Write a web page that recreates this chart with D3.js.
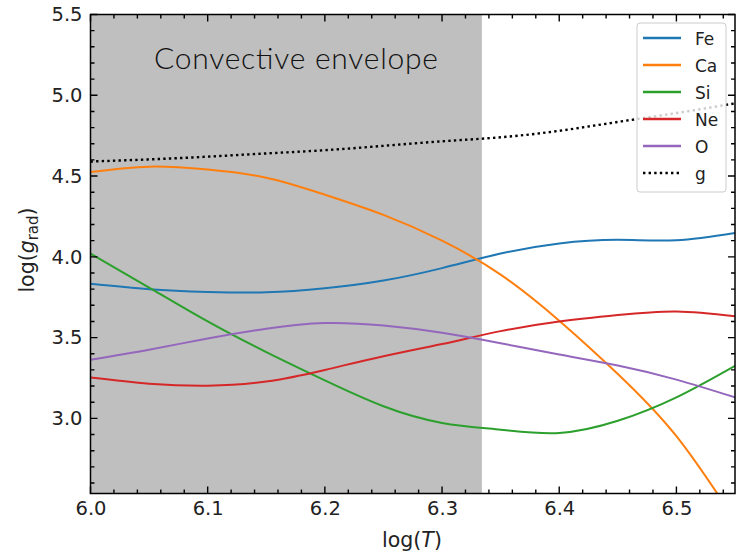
<!DOCTYPE html>
<html>
<head>
<meta charset="utf-8">
<script src="https://cdn.jsdelivr.net/npm/d3@7"></script>
<style>
  body { margin: 0; background: #fff; }
  text { font-family: "DejaVu Sans", sans-serif; }
</style>
</head>
<body>
<svg id="chart" width="736" height="554"></svg>
<script>
// temperature grid (log T) and log(g_rad) for each element
const logT = [6.00, 6.05, 6.10, 6.15, 6.20, 6.25, 6.30, 6.35, 6.40, 6.45, 6.50, 6.55];
const fe = [3.833, 3.800, 3.783, 3.780, 3.805, 3.853, 3.930, 4.020, 4.083, 4.105, 4.103, 4.148];
const ca = [4.525, 4.558, 4.540, 4.490, 4.385, 4.260, 4.100, 3.890, 3.605, 3.275, 2.890, 2.370];
const si = [4.020, 3.810, 3.600, 3.410, 3.235, 3.075, 2.972, 2.930, 2.910, 2.985, 3.130, 3.325];
const ne = [3.253, 3.215, 3.202, 3.228, 3.300, 3.385, 3.460, 3.540, 3.600, 3.640, 3.662, 3.632];
const ox = [3.363, 3.425, 3.495, 3.555, 3.590, 3.575, 3.530, 3.465, 3.395, 3.327, 3.240, 3.130];
const gravity = [4.590, 4.603, 4.620, 4.640, 4.660, 4.687, 4.715, 4.740, 4.780, 4.835, 4.890, 4.950];

const seriesNames = ["Fe", "Ca", "Si", "Ne", "O", "g"];
const seriesColors = ["#1f77b4", "#ff7f0e", "#2ca02c", "#d62728", "#9467bd", "#000000"];
const seriesValues = [fe, ca, si, ne, ox, gravity];

const envelopeEdge = 6.334;
const xTicks = [6.0, 6.1, 6.2, 6.3, 6.4, 6.5];
const yTicks = [3.0, 3.5, 4.0, 4.5, 5.0, 5.5];

const pLeft = 90.5, pRight = 735, pTop = 14.5, pBottom = 493.5;

const svg = d3.select("#chart");

const x = d3.scaleLinear().domain([6.0, 6.55]).range([pLeft, pRight]);
const y = d3.scaleLinear().domain([2.535, 5.5]).range([pBottom, pTop]);

svg.append("defs").append("clipPath").attr("id", "plotclip")
  .append("rect")
  .attr("x", pLeft).attr("y", pTop)
  .attr("width", pRight - pLeft).attr("height", pBottom - pTop);

// shaded convective envelope
svg.append("rect")
  .attr("x", x(6.0)).attr("y", pTop)
  .attr("width", x(envelopeEdge) - x(6.0))
  .attr("height", pBottom - pTop)
  .attr("fill", "#bfbfbf");

svg.append("text")
  .attr("x", 154).attr("y", 69)
  .attr("textLength", 284).attr("lengthAdjust", "spacing")
  .style("font-family", "Lato, 'Open Sans', sans-serif")
  .style("font-weight", 300)
  .style("font-size", "30px")
  .attr("fill", "#111")
  .text("Convective envelope");

// curves
const line = d3.line()
  .x((d, i) => x(logT[i]))
  .y(d => y(d))
  .curve(d3.curveNatural);

const plot = svg.append("g").attr("clip-path", "url(#plotclip)");
seriesValues.forEach((vals, k) => {
  plot.append("path")
    .datum(vals)
    .attr("d", line)
    .attr("fill", "none")
    .attr("stroke", seriesColors[k])
    .attr("stroke-width", seriesNames[k] === "g" ? 2.4 : 2)
    .attr("stroke-dasharray", seriesNames[k] === "g" ? "2.4,3.2" : null);
});

// tick labels via d3 axes
const xAxis = svg.append("g").attr("transform", `translate(0,${pBottom})`)
  .call(d3.axisBottom(x).tickValues(xTicks).tickSize(0).tickPadding(8).tickFormat(d3.format(".1f")));
const yAxis = svg.append("g").attr("transform", `translate(${pLeft},0)`)
  .call(d3.axisLeft(y).tickValues(yTicks).tickSize(0).tickPadding(8).tickFormat(d3.format(".1f")));
[xAxis, yAxis].forEach(a => {
  a.select(".domain").remove();
  a.selectAll("text")
    .style("font-family", "'DejaVu Sans', sans-serif")
    .style("font-size", "19.5px").attr("fill", "#222");
});

// frame
svg.append("rect")
  .attr("x", pLeft).attr("y", pTop)
  .attr("width", pRight - pLeft).attr("height", pBottom - pTop)
  .attr("fill", "none").attr("stroke", "#000").attr("stroke-width", 1.5);

// tick marks, pointing inward on all four sides
const xMinor = d3.range(6.0, 6.551, 0.02).filter(v => Math.abs(v * 10 - Math.round(v * 10)) > 1e-6);
const yMinor = d3.range(2.6, 5.51, 0.1).filter(v => Math.abs(v * 2 - Math.round(v * 2)) > 1e-6);

const tickSpecs = [];
xTicks.forEach(v => tickSpecs.push({ v: v, axis: "x", len: 7 }));
xMinor.forEach(v => tickSpecs.push({ v: v, axis: "x", len: 4 }));
yTicks.forEach(v => tickSpecs.push({ v: v, axis: "y", len: 7 }));
yMinor.forEach(v => tickSpecs.push({ v: v, axis: "y", len: 4 }));

const ticksG = svg.append("g").attr("class", "inward-ticks");
tickSpecs.forEach(t => {
  if (t.axis === "x") {
    const px = x(t.v);
    ticksG.append("path")
      .attr("d", `M${px},${pBottom}V${pBottom - t.len}M${px},${pTop}V${pTop + t.len}`)
      .attr("stroke", "#000").attr("stroke-width", 1.4).attr("fill", "none");
  } else {
    const py = y(t.v);
    ticksG.append("path")
      .attr("d", `M${pLeft},${py}H${pLeft + t.len}M${pRight},${py}H${pRight - t.len}`)
      .attr("stroke", "#000").attr("stroke-width", 1.4).attr("fill", "none");
  }
});

// axis labels
const xl = svg.append("text")
  .attr("x", 412).attr("y", 547)
  .attr("text-anchor", "middle")
  .style("font-size", "20.5px").attr("fill", "#222");
xl.append("tspan").text("log(");
xl.append("tspan").style("font-style", "italic").text("T");
xl.append("tspan").text(")");

const yl = svg.append("text")
  .attr("transform", "translate(34,250) rotate(-90)")
  .attr("text-anchor", "middle")
  .style("font-size", "20.5px").attr("fill", "#222");
yl.append("tspan").text("log(");
yl.append("tspan").style("font-style", "italic").text("g");
yl.append("tspan").attr("dy", 4).style("font-size", "15px").text("rad");
yl.append("tspan").attr("dy", -4).text(")");

// legend
const lg = svg.append("g").attr("transform", "translate(637,23)");
lg.append("rect")
  .attr("width", 89).attr("height", 169).attr("rx", 3)
  .attr("fill", "#fff").attr("fill-opacity", 0.8)
  .attr("stroke", "#cccccc").attr("stroke-width", 1);
seriesNames.forEach((name, k) => {
  const yy = 15 + k * 27;
  lg.append("line")
    .attr("x1", 6).attr("x2", 44).attr("y1", yy).attr("y2", yy)
    .attr("stroke", seriesColors[k])
    .attr("stroke-width", 2.4)
    .attr("stroke-dasharray", name === "g" ? "2.4,3.2" : null);
  lg.append("text")
    .attr("x", 58).attr("y", yy + 6.5)
    .style("font-size", "17px").attr("fill", "#222")
    .text(name);
});
</script>
</body>
</html>
